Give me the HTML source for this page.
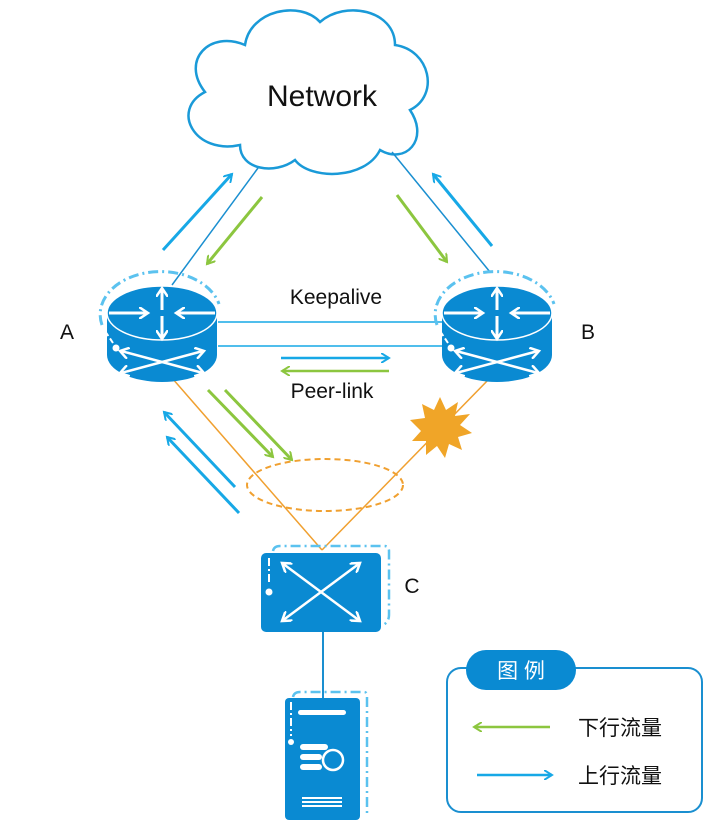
<!DOCTYPE html>
<html><head><meta charset="utf-8"><style>
body{margin:0;background:#fff;width:707px;height:820px;overflow:hidden}
svg{display:block}
text{font-family:"Liberation Sans","Noto Sans CJK SC",sans-serif}
</style></head><body>
<svg width="707" height="820" viewBox="0 0 707 820" xmlns="http://www.w3.org/2000/svg">
<defs>
<marker id="ab" markerWidth="10" markerHeight="10" refX="8" refY="5" orient="auto" markerUnits="userSpaceOnUse"><path d="M0,0 L8,5 L0,10" fill="none" stroke="#17a8e6" stroke-width="2"/></marker>
<marker id="ag" markerWidth="10" markerHeight="10" refX="8" refY="5" orient="auto" markerUnits="userSpaceOnUse"><path d="M0,0 L8,5 L0,10" fill="none" stroke="#8cc63f" stroke-width="2"/></marker>
<marker id="aw" markerWidth="12" markerHeight="12" refX="9" refY="6" orient="auto" markerUnits="userSpaceOnUse"><path d="M0,0 L9,6 L0,12" fill="none" stroke="#fff" stroke-width="2.5"/></marker>
<g id="rt">
<path d="M-55,0 L-55,42 A55,27 0 0 0 55,42 L55,0 Z" fill="#0a8ad2"/>
<ellipse cx="0" cy="0" rx="55" ry="27" fill="#0a8ad2" stroke="#fff" stroke-width="1.5"/>
<line x1="-53" y1="0" x2="-14" y2="0" stroke="#fff" stroke-width="3" marker-end="url(#aw)"/>
<line x1="53" y1="0" x2="14" y2="0" stroke="#fff" stroke-width="3" marker-end="url(#aw)"/>
<line x1="0" y1="-3" x2="0" y2="-25" stroke="#fff" stroke-width="3" marker-end="url(#aw)"/>
<line x1="0" y1="3" x2="0" y2="26" stroke="#fff" stroke-width="3" marker-end="url(#aw)"/>
<line x1="-40" y1="38" x2="42" y2="60" stroke="#fff" stroke-width="2" marker-end="url(#aw)"/>
<line x1="40" y1="38" x2="-42" y2="60" stroke="#fff" stroke-width="2" marker-end="url(#aw)"/>
<line x1="-40" y1="60" x2="42" y2="38" stroke="#fff" stroke-width="2" marker-end="url(#aw)"/>
<line x1="40" y1="60" x2="-42" y2="38" stroke="#fff" stroke-width="2" marker-end="url(#aw)"/>
<circle cx="-46" cy="35" r="3.5" fill="#fff"/>
<path d="M-60,12 A59,42 0 0 1 57,-9" fill="none" stroke="#5bc2ef" stroke-width="3" stroke-dasharray="10,4,2,4"/>
<path d="M-57,18 L-49,30" fill="none" stroke="#fff" stroke-width="2" stroke-dasharray="6,3"/>
</g>
</defs>
<!-- cloud -->
<path d="M240,145 C195,155 170,110 205,92 C180,60 210,30 245,45 C250,10 300,0 320,22 C345,0 395,10 395,45 C430,50 440,95 410,110 C430,140 405,165 380,150 C365,180 310,180 295,160 C275,175 240,170 240,145 Z" fill="#fff" stroke="#1a9ad8" stroke-width="2.5"/>
<text x="322" y="106" font-size="30" text-anchor="middle" fill="#111">Network</text>
<!-- network links -->
<line x1="258" y1="168" x2="172" y2="285" stroke="#1a8fd0" stroke-width="1.5"/>
<line x1="392" y1="152" x2="490" y2="272" stroke="#1a8fd0" stroke-width="1.5"/>
<!-- flow arrows top -->
<line x1="163" y1="250" x2="232" y2="174" stroke="#17a8e6" stroke-width="3" marker-end="url(#ab)"/>
<line x1="262" y1="197" x2="207" y2="264" stroke="#8cc63f" stroke-width="3" marker-end="url(#ag)"/>
<line x1="397" y1="195" x2="447" y2="262" stroke="#8cc63f" stroke-width="3" marker-end="url(#ag)"/>
<line x1="492" y1="246" x2="433" y2="174" stroke="#17a8e6" stroke-width="3" marker-end="url(#ab)"/>
<!-- orange links -->
<line x1="172" y1="378" x2="322" y2="550" stroke="#f0a030" stroke-width="1.5"/>
<line x1="490" y1="378" x2="322" y2="550" stroke="#f0a030" stroke-width="1.5"/>
<ellipse cx="325" cy="485" rx="78" ry="26" fill="none" stroke="#f0a030" stroke-width="2" stroke-dasharray="6,4"/>
<polygon points="440,397 446,410 458,402 455,416 470,414 460,425 472,433 458,437 462,450 449,444 445,458 437,446 426,455 426,441 412,441 421,431 410,420 425,418 422,404 434,410" fill="#f0a528"/>
<!-- lower arrows -->
<line x1="208" y1="390" x2="273" y2="457" stroke="#8cc63f" stroke-width="3" marker-end="url(#ag)"/>
<line x1="225" y1="390" x2="292" y2="460" stroke="#8cc63f" stroke-width="3" marker-end="url(#ag)"/>
<line x1="235" y1="487" x2="164" y2="412" stroke="#17a8e6" stroke-width="3" marker-end="url(#ab)"/>
<line x1="239" y1="513" x2="167" y2="437" stroke="#17a8e6" stroke-width="3" marker-end="url(#ab)"/>
<!-- keepalive / peer-link -->
<line x1="218" y1="322" x2="442" y2="322" stroke="#17a8e6" stroke-width="1.5"/>
<line x1="218" y1="346" x2="442" y2="346" stroke="#17a8e6" stroke-width="1.5"/>
<line x1="281" y1="358" x2="389" y2="358" stroke="#17a8e6" stroke-width="2.5" marker-end="url(#ab)"/>
<line x1="389" y1="371" x2="282" y2="371" stroke="#8cc63f" stroke-width="2.5" marker-end="url(#ag)"/>
<text x="336" y="304" font-size="21" text-anchor="middle" fill="#111">Keepalive</text>
<text x="332" y="398" font-size="21" text-anchor="middle" fill="#111">Peer-link</text>
<!-- routers -->
<use href="#rt" x="162" y="313"/>
<use href="#rt" x="497" y="313"/>
<text x="67" y="339" font-size="21" text-anchor="middle" fill="#111">A</text>
<text x="588" y="339" font-size="21" text-anchor="middle" fill="#111">B</text>
<!-- switch C -->
<rect x="261" y="553" width="120" height="79" rx="5" fill="#0a8ad2"/>
<path d="M273,551 Q274,546 280,546 L384,546 Q389,546 389,551 L389,615 Q389,622 383,625" fill="none" stroke="#5bc2ef" stroke-width="2.5" stroke-dasharray="10,4,2,4"/>
<line x1="269" y1="558" x2="269" y2="582" stroke="#fff" stroke-width="2" stroke-dasharray="8,3,2,3"/>
<circle cx="269" cy="592" r="3.5" fill="#fff"/>
<line x1="321" y1="592" x2="282" y2="563" stroke="#fff" stroke-width="2.5" marker-end="url(#aw)"/>
<line x1="321" y1="592" x2="360" y2="563" stroke="#fff" stroke-width="2.5" marker-end="url(#aw)"/>
<line x1="321" y1="592" x2="282" y2="621" stroke="#fff" stroke-width="2.5" marker-end="url(#aw)"/>
<line x1="321" y1="592" x2="360" y2="621" stroke="#fff" stroke-width="2.5" marker-end="url(#aw)"/>
<text x="412" y="593" font-size="21" text-anchor="middle" fill="#111">C</text>
<line x1="323" y1="632" x2="323" y2="698" stroke="#1a8fd0" stroke-width="2"/>
<!-- server -->
<rect x="285" y="698" width="75" height="122" rx="4" fill="#0a8ad2"/>
<path d="M293,697 Q294,692 300,692 L364,692 Q367,692 367,696 L367,815" fill="none" stroke="#5bc2ef" stroke-width="2.5" stroke-dasharray="10,4,2,4"/>
<rect x="298" y="710" width="48" height="5" rx="2.5" fill="#fff"/>
<line x1="291" y1="702" x2="291" y2="736" stroke="#fff" stroke-width="2" stroke-dasharray="8,3,2,3"/>
<circle cx="291" cy="742" r="3" fill="#fff"/>
<rect x="300" y="744" width="28" height="6" rx="3" fill="#fff"/>
<rect x="300" y="754" width="22" height="6" rx="3" fill="#fff"/>
<rect x="300" y="764" width="22" height="6" rx="3" fill="#fff"/>
<circle cx="333" cy="760" r="10" fill="#0a8ad2" stroke="#fff" stroke-width="2.5"/>
<rect x="302" y="797" width="40" height="2" fill="#fff"/>
<rect x="302" y="801" width="40" height="2" fill="#fff"/>
<rect x="302" y="805" width="40" height="2" fill="#fff"/>
<!-- legend -->
<rect x="447" y="668" width="255" height="144" rx="14" fill="#fff" stroke="#1a8fd0" stroke-width="2"/>
<rect x="466" y="650" width="110" height="40" rx="20" fill="#0a8ad2"/>
<text x="521" y="678" font-size="21" text-anchor="middle" fill="#fff">图 例</text>
<line x1="550" y1="727" x2="474" y2="727" stroke="#8cc63f" stroke-width="2.5" marker-end="url(#ag)"/>
<text x="578" y="735" font-size="21" fill="#111">下行流量</text>
<line x1="477" y1="775" x2="552" y2="775" stroke="#17a8e6" stroke-width="2.5" marker-end="url(#ab)"/>
<text x="578" y="783" font-size="21" fill="#111">上行流量</text>
</svg>
</body></html>
